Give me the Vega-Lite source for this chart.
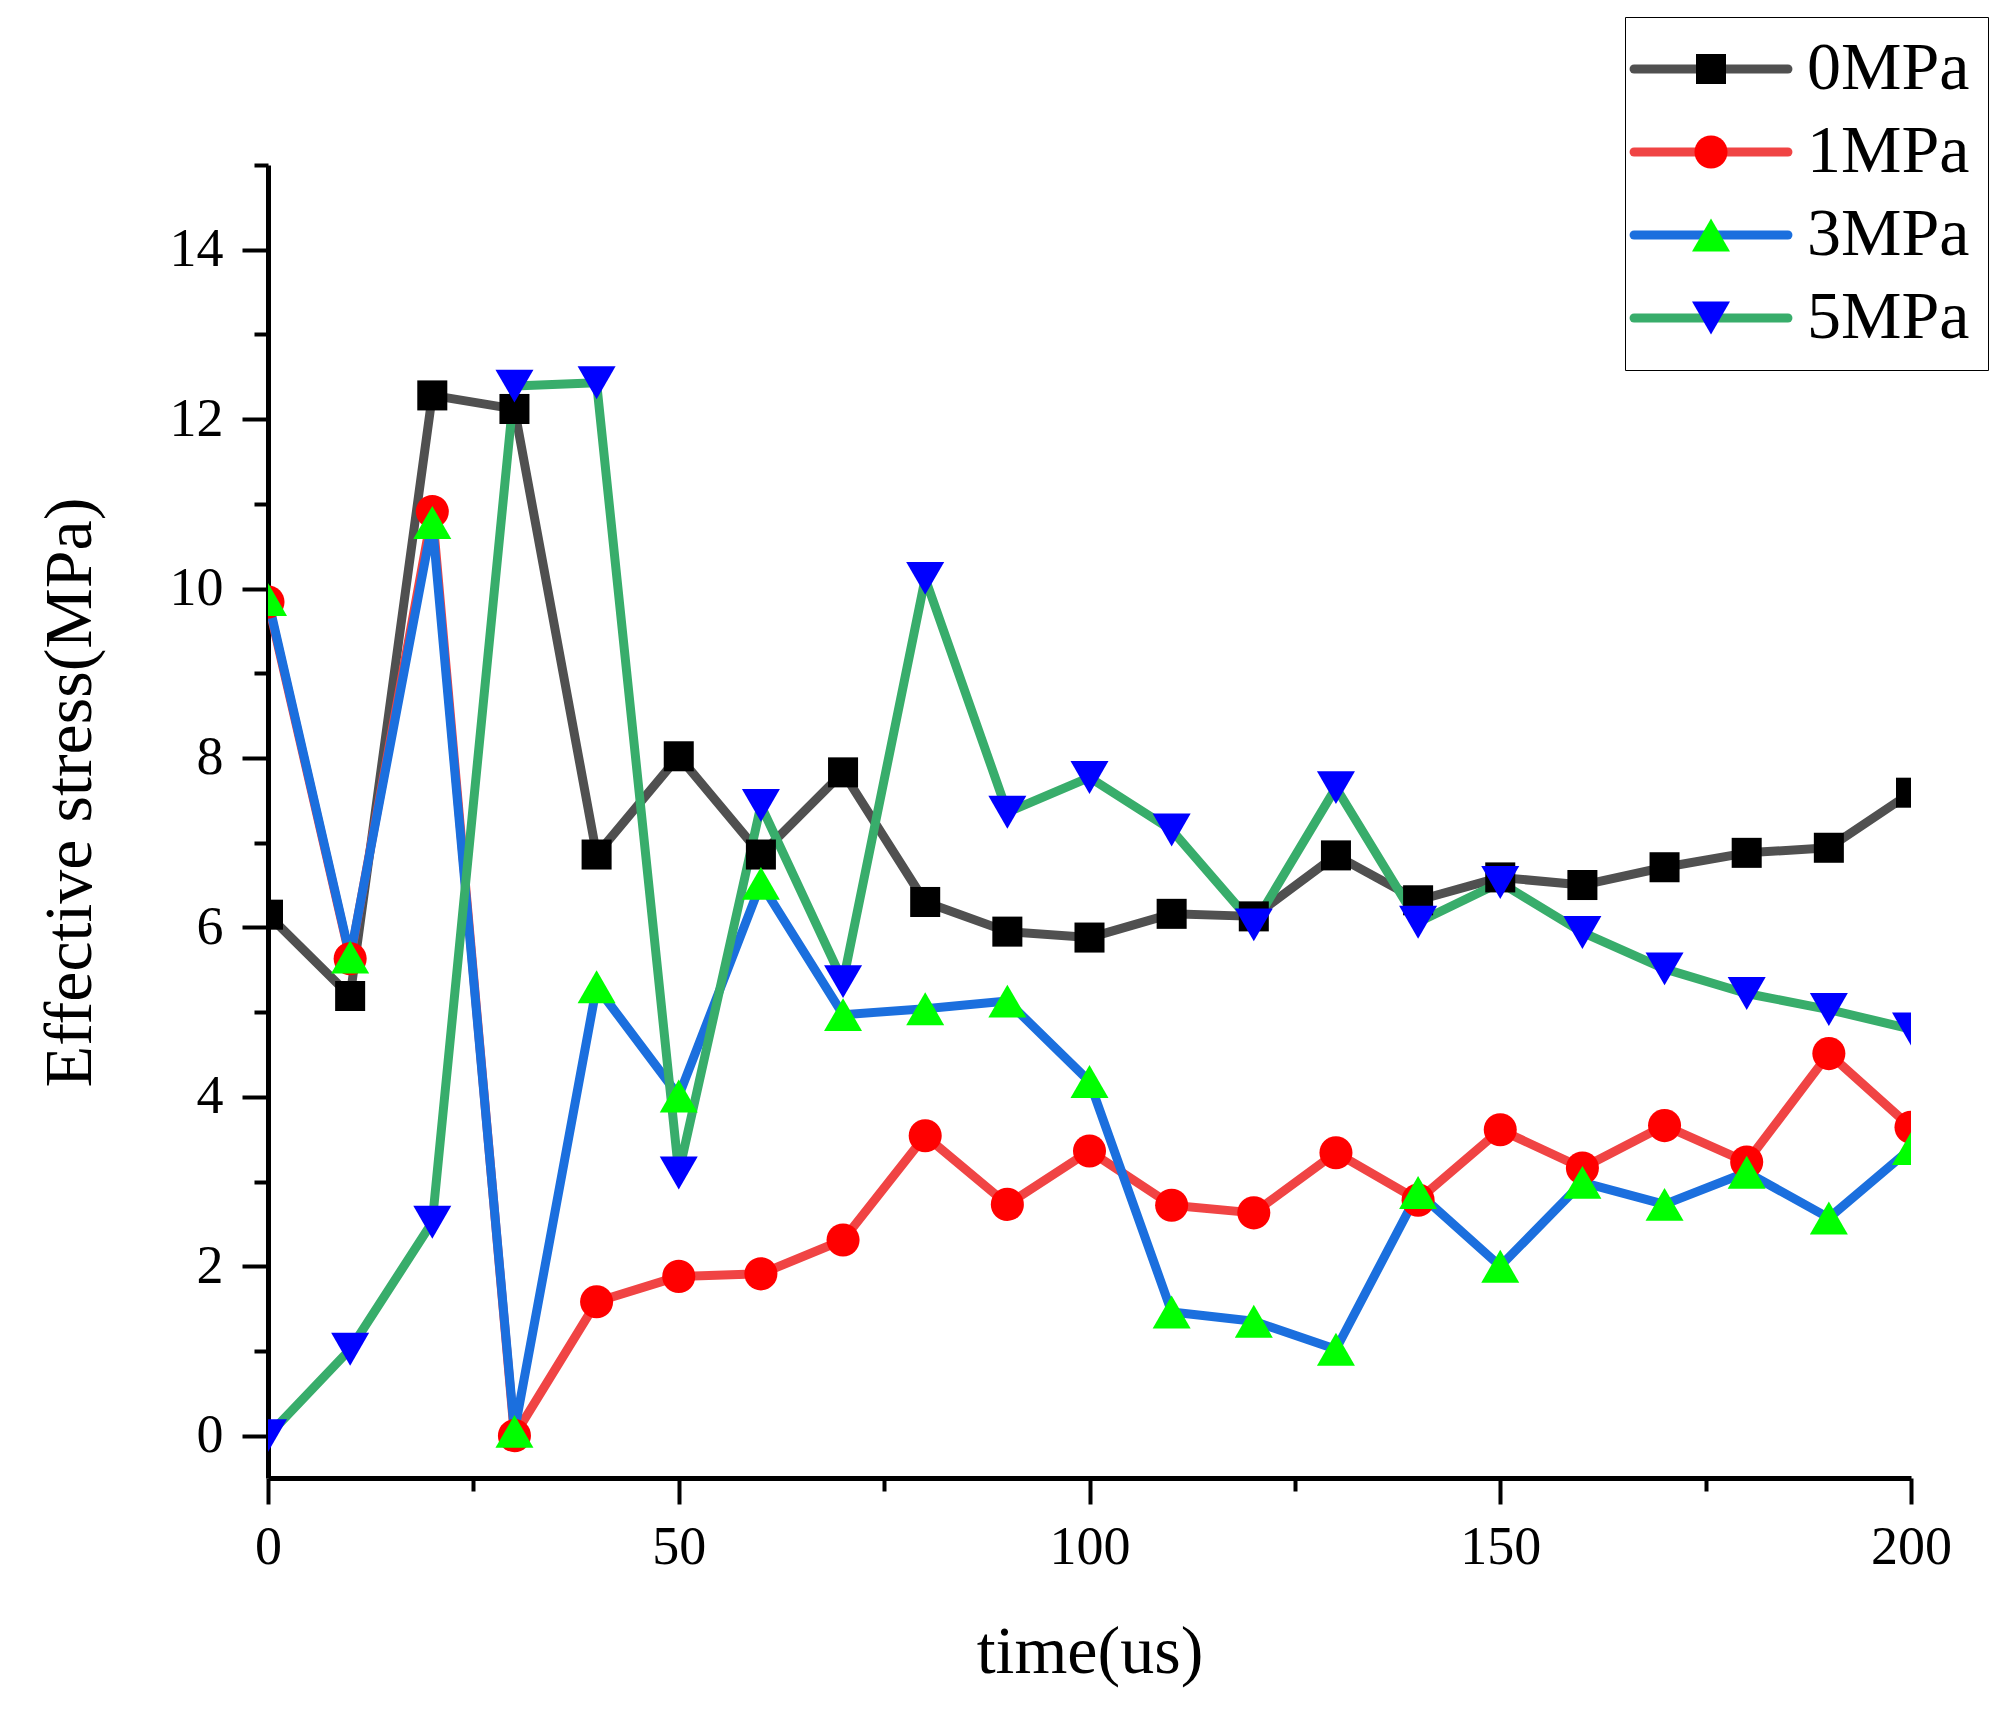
{
  "$schema": "https://vega.github.io/schema/vega-lite/v6.json",
  "width": 1643,
  "height": 1313,
  "autosize": {"type": "none"},
  "padding": {"left": 268, "top": 165, "right": 103, "bottom": 237},
  "background": "white",
  "config": {"view": {"stroke": null}},
  "resolve": {"axis": {"x": "independent", "y": "independent"}},
  "data": {"values": [
    {"t":0,"s":6.15,"series":"0MPa"},{"t":10,"s":5.19,"series":"0MPa"},{"t":20,"s":12.28,"series":"0MPa"},{"t":30,"s":12.12,"series":"0MPa"},{"t":40,"s":6.86,"series":"0MPa"},{"t":50,"s":8.02,"series":"0MPa"},{"t":60,"s":6.86,"series":"0MPa"},{"t":70,"s":7.83,"series":"0MPa"},{"t":80,"s":6.30,"series":"0MPa"},{"t":90,"s":5.95,"series":"0MPa"},{"t":100,"s":5.88,"series":"0MPa"},{"t":110,"s":6.16,"series":"0MPa"},{"t":120,"s":6.13,"series":"0MPa"},{"t":130,"s":6.85,"series":"0MPa"},{"t":140,"s":6.32,"series":"0MPa"},{"t":150,"s":6.59,"series":"0MPa"},{"t":160,"s":6.50,"series":"0MPa"},{"t":170,"s":6.71,"series":"0MPa"},{"t":180,"s":6.88,"series":"0MPa"},{"t":190,"s":6.94,"series":"0MPa"},{"t":200,"s":7.59,"series":"0MPa"},
    {"t":0,"s":9.84,"series":"1MPa"},{"t":10,"s":5.63,"series":"1MPa"},{"t":20,"s":10.91,"series":"1MPa"},{"t":30,"s":0.0,"series":"1MPa"},{"t":40,"s":1.58,"series":"1MPa"},{"t":50,"s":1.88,"series":"1MPa"},{"t":60,"s":1.91,"series":"1MPa"},{"t":70,"s":2.31,"series":"1MPa"},{"t":80,"s":3.54,"series":"1MPa"},{"t":90,"s":2.73,"series":"1MPa"},{"t":100,"s":3.36,"series":"1MPa"},{"t":110,"s":2.72,"series":"1MPa"},{"t":120,"s":2.63,"series":"1MPa"},{"t":130,"s":3.34,"series":"1MPa"},{"t":140,"s":2.78,"series":"1MPa"},{"t":150,"s":3.61,"series":"1MPa"},{"t":160,"s":3.16,"series":"1MPa"},{"t":170,"s":3.66,"series":"1MPa"},{"t":180,"s":3.23,"series":"1MPa"},{"t":190,"s":4.51,"series":"1MPa"},{"t":200,"s":3.64,"series":"1MPa"},
    {"t":0,"s":9.87,"series":"3MPa"},{"t":10,"s":5.65,"series":"3MPa"},{"t":20,"s":10.78,"series":"3MPa"},{"t":30,"s":0.05,"series":"3MPa"},{"t":40,"s":5.30,"series":"3MPa"},{"t":50,"s":4.01,"series":"3MPa"},{"t":60,"s":6.52,"series":"3MPa"},{"t":70,"s":4.97,"series":"3MPa"},{"t":80,"s":5.04,"series":"3MPa"},{"t":90,"s":5.13,"series":"3MPa"},{"t":100,"s":4.18,"series":"3MPa"},{"t":110,"s":1.46,"series":"3MPa"},{"t":120,"s":1.35,"series":"3MPa"},{"t":130,"s":1.02,"series":"3MPa"},{"t":140,"s":2.87,"series":"3MPa"},{"t":150,"s":2.00,"series":"3MPa"},{"t":160,"s":2.99,"series":"3MPa"},{"t":170,"s":2.73,"series":"3MPa"},{"t":180,"s":3.11,"series":"3MPa"},{"t":190,"s":2.57,"series":"3MPa"},{"t":200,"s":3.39,"series":"3MPa"},
    {"t":0,"s":0.0,"series":"5MPa"},{"t":10,"s":1.02,"series":"5MPa"},{"t":20,"s":2.52,"series":"5MPa"},{"t":30,"s":12.39,"series":"5MPa"},{"t":40,"s":12.43,"series":"5MPa"},{"t":50,"s":3.10,"series":"5MPa"},{"t":60,"s":7.44,"series":"5MPa"},{"t":70,"s":5.36,"series":"5MPa"},{"t":80,"s":10.12,"series":"5MPa"},{"t":90,"s":7.36,"series":"5MPa"},{"t":100,"s":7.77,"series":"5MPa"},{"t":110,"s":7.15,"series":"5MPa"},{"t":120,"s":6.03,"series":"5MPa"},{"t":130,"s":7.65,"series":"5MPa"},{"t":140,"s":6.06,"series":"5MPa"},{"t":150,"s":6.53,"series":"5MPa"},{"t":160,"s":5.94,"series":"5MPa"},{"t":170,"s":5.51,"series":"5MPa"},{"t":180,"s":5.22,"series":"5MPa"},{"t":190,"s":5.03,"series":"5MPa"},{"t":200,"s":4.80,"series":"5MPa"}
  ]},
  "layer": [
    {
      "mark": {"type": "line", "clip": true, "strokeWidth": 9, "strokeCap": "round", "strokeJoin": "round"},
      "encoding": {
        "x": {"field": "t", "type": "quantitative",
          "scale": {"domain": [0, 200], "nice": false, "zero": false},
          "axis": {"orient": "bottom", "values": [25, 75, 125, 175], "tickSize": 13, "tickWidth": 4, "tickColor": "black", "domain": false, "labels": false, "title": null, "grid": false}},
        "y": {"field": "s", "type": "quantitative",
          "scale": {"domain": [-0.5, 15], "nice": false, "zero": false},
          "axis": {"orient": "left", "values": [1, 3, 5, 7, 9, 11, 13, 15], "tickSize": 14, "tickWidth": 4, "tickColor": "black", "domain": false, "labels": false, "title": null, "grid": false}},
        "stroke": {"field": "series", "type": "nominal",
          "scale": {"domain": ["0MPa", "1MPa", "3MPa", "5MPa"], "range": ["#505050", "#F04444", "#1B6FDE", "#38AD6B"]},
          "legend": {"orient": "none", "legendX": 1372, "legendY": -130, "padding": 0, "title": null,
            "symbolType": "M-4.05,0H4.05", "symbolSize": 1444, "symbolStrokeWidth": 9, "symbolOffset": 37,
            "labelOffset": 62, "labelLimit": 1000, "labelFont": "Liberation Serif", "labelFontSize": 68, "labelColor": "black",
            "rowPadding": 15, "zindex": 1,
            "encode": {"symbols": {"update": {"strokeCap": {"value": "round"}, "fill": {"value": "transparent"}}}}}}
      }
    },
    {
      "mark": {"type": "point", "clip": true, "filled": true, "opacity": 1, "strokeWidth": 0, "size": 1444},
      "encoding": {
        "x": {"field": "t", "type": "quantitative",
          "axis": {"orient": "bottom", "values": [0, 50, 100, 150, 200], "tickSize": 26, "tickWidth": 4, "tickColor": "black",
            "domain": true, "domainColor": "black", "domainWidth": 5, "grid": false,
            "labelFont": "Liberation Serif", "labelFontSize": 54, "labelColor": "black", "labelPadding": 59, "labelBaseline": "alphabetic", "labelFlush": false, "labelOverlap": false,
            "title": "time(us)", "titleFont": "Liberation Serif", "titleFontSize": 68, "titleFontWeight": "normal", "titleColor": "black", "titleBaseline": "alphabetic", "titleY": 194}},
        "y": {"field": "s", "type": "quantitative",
          "axis": {"orient": "left", "values": [0, 2, 4, 6, 8, 10, 12, 14], "tickSize": 26, "tickWidth": 4, "tickColor": "black",
            "domain": true, "domainColor": "black", "domainWidth": 5, "grid": false,
            "labelFont": "Liberation Serif", "labelFontSize": 54, "labelColor": "black", "labelPadding": 19, "labelFlush": false, "labelOverlap": false,
            "title": "Effective stress(MPa)", "titleFont": "Liberation Serif", "titleFontSize": 68, "titleFontWeight": "normal", "titleColor": "black",
            "titleAngle": -90, "titleAlign": "center", "titleBaseline": "alphabetic", "titleX": -178, "titleY": 627}},
        "fill": {"field": "series", "type": "nominal",
          "scale": {"range": ["#000000", "#FF0000", "#00FF00", "#0000FF"]},
          "legend": {"orient": "none", "legendX": 1357, "legendY": -148, "padding": 18, "title": null,
            "strokeColor": "black", "symbolSize": 1444, "symbolStrokeWidth": 0, "symbolOffset": 34,
            "labelOffset": 62, "labelLimit": 1000, "labelFont": "Liberation Serif", "labelFontSize": 68, "labelOpacity": 0,
            "rowPadding": 15, "zindex": 2,
            "encode": {"legend": {"update": {"strokeWidth": {"value": 4}}}}}},
        "shape": {"field": "series", "type": "nominal",
          "scale": {"range": [
            "M-0.79,-0.79H0.79V0.79H-0.79Z",
            "M0.87,0A0.87,0.87,0,1,1,-0.87,0A0.87,0.87,0,1,1,0.87,0Z",
            "M-1,0.866L1,0.866L0,-0.866Z",
            "M-1,-0.866L1,-0.866L0,0.866Z"
          ]}}
      }
    }
  ]
}
